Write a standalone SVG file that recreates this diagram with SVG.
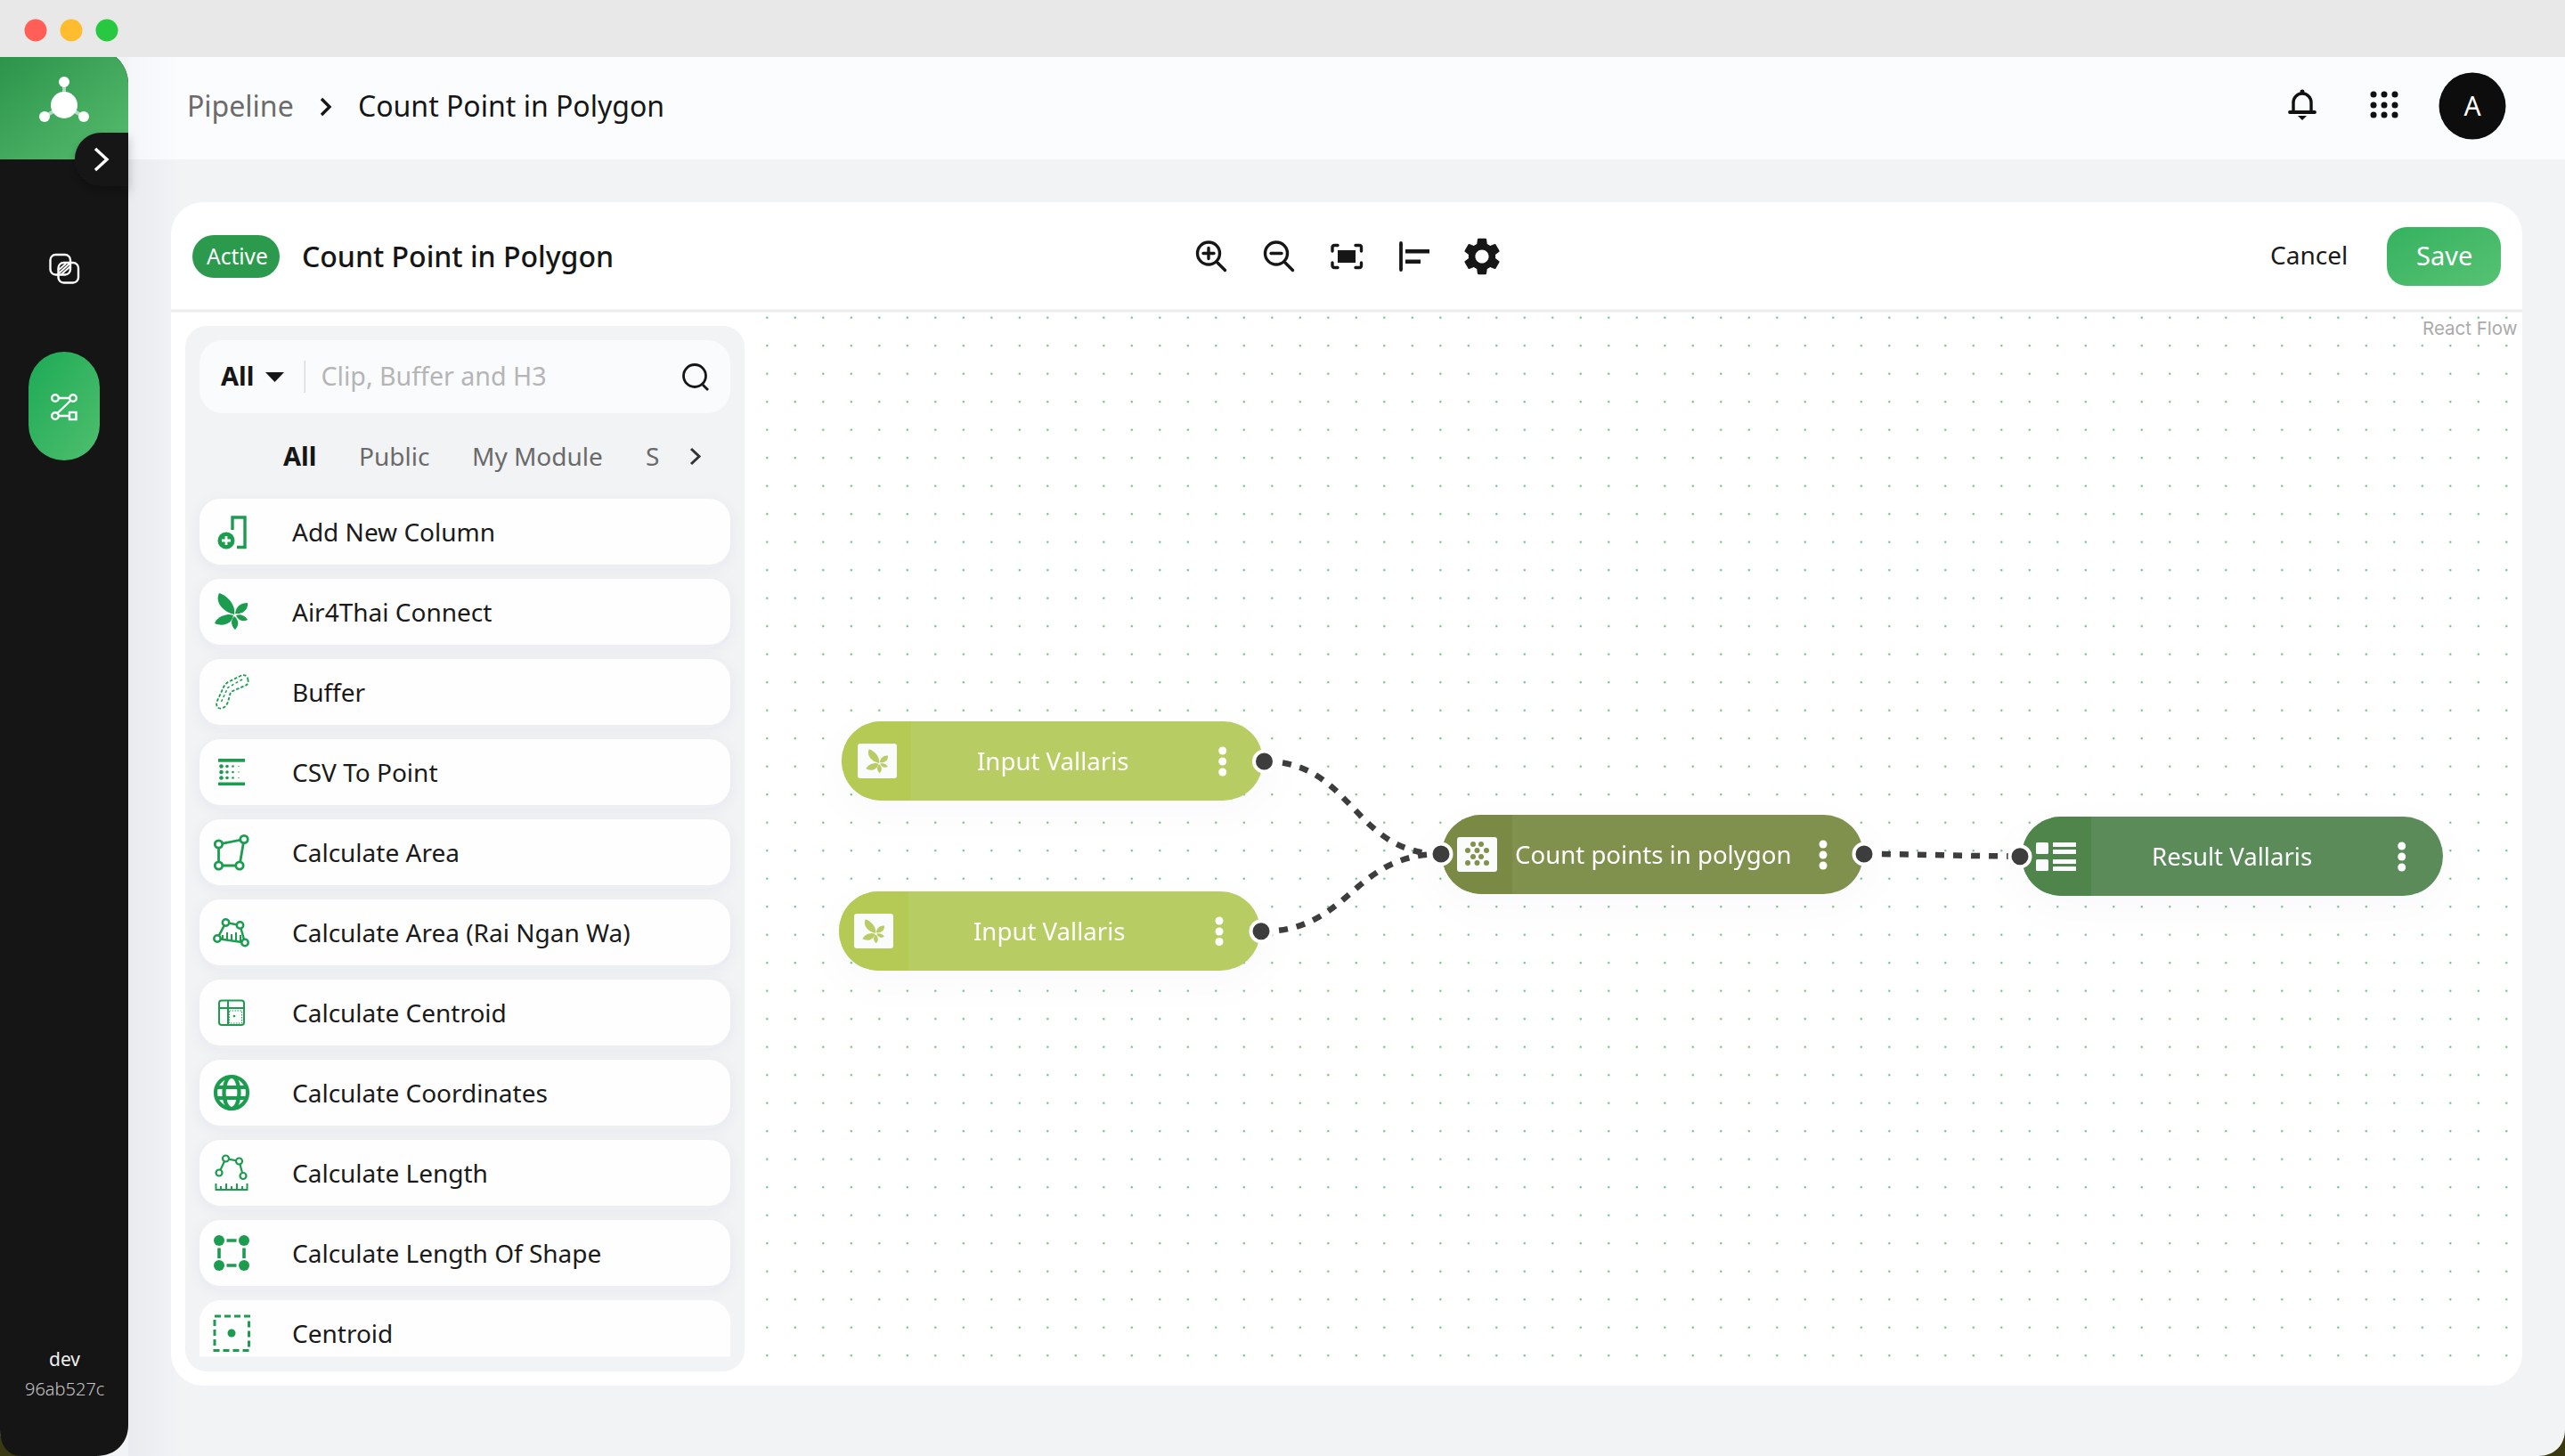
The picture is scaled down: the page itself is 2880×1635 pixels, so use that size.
<svg xmlns="http://www.w3.org/2000/svg" xmlns:xlink="http://www.w3.org/1999/xlink" width="2880" height="1635" viewBox="0 0 2880 1635">
<style>
text{font-family:"Noto Sans","Liberation Sans",sans-serif}
.lbl{font-size:28px;fill:#1a1a1a}
.nl{font-size:27.6px;fill:#fff}
.card{fill:#fefefe;filter:url(#cs)}
.g{stroke:#1b9c4f;fill:none}
.gf{fill:#1b9c4f}
.h{fill:#3d3d3d;stroke:#fff;stroke-width:4}
.edge{fill:none;stroke:#3d3d3d;stroke-width:6.5;stroke-dasharray:10 10}
.k{fill:#fff}
.tb{stroke:#161616;fill:none;stroke-width:3.4;stroke-linecap:round}
.tab{font-size:28px;fill:#6a6a6a}
</style>
<defs>
<linearGradient id="gHead" x1="0" y1="0" x2="1" y2="1"><stop offset="0" stop-color="#2c944b"/><stop offset="1" stop-color="#56bd6e"/></linearGradient>
<linearGradient id="gPill" x1="0" y1="0" x2="1" y2="1"><stop offset="0" stop-color="#1daa55"/><stop offset="1" stop-color="#4fbf6e"/></linearGradient>
<linearGradient id="gSave" x1="0" y1="0" x2="1" y2="1"><stop offset="0" stop-color="#35b25f"/><stop offset="1" stop-color="#57c274"/></linearGradient>
<linearGradient id="gSide" x1="0" y1="0" x2="1" y2="0"><stop offset="0" stop-color="#e9ebf0"/><stop offset="1" stop-color="#f2f3f5"/></linearGradient>
<linearGradient id="gSideH" x1="0" y1="0" x2="1" y2="0"><stop offset="0" stop-color="#f5f6fa"/><stop offset="1" stop-color="#fbfcfe"/></linearGradient>
<filter id="cs" x="-5%" y="-30%" width="110%" height="170%"><feDropShadow dx="0" dy="4" stdDeviation="8" flood-color="#3a3a6a" flood-opacity=".05"/></filter>
<filter id="ns" x="-20%" y="-60%" width="140%" height="240%"><feDropShadow dx="0" dy="14" stdDeviation="22" flood-color="#3a3a6a" flood-opacity=".025"/></filter>
<filter id="bs" x="-50%" y="-50%" width="200%" height="200%"><feDropShadow dx="0" dy="6" stdDeviation="6" flood-color="#000" flood-opacity=".25"/></filter>
<pattern id="dots" patternUnits="userSpaceOnUse" x="-4.95" y="-5.55" width="31.5" height="31.5"><circle cx="15.75" cy="15.75" r="1.25" fill="#6dbf85"/></pattern>
<clipPath id="cardClip"><rect x="224" y="1450" width="596" height="73.5"/></clipPath>
<g id="leaf"><path d="M0 0C-13-3-22-14-17-24C-7-21 2-10 0 0Z"/><path d="M1-1C2-9 7-13 15-13C16-5 9 0 1-1Z"/><path d="M-1 1C-9-2-20 3-22 10C-13 14-3 11-1 1Z"/><path d="M0 2C-5 7-3 14 1 17C6 12 5 6 0 2Z"/><path d="M2 1C7-1 13 2 15 6C9 9 4 6 2 1Z"/></g>
</defs>

<g id="chrome">
<rect width="2880" height="1635" fill="#f2f3f5"/>
<path d="M2880 1605V1635H2850C2868 1635 2880 1623 2880 1605Z" fill="#3a3a12"/>
<path d="M0 1605V1635H30C12 1635 0 1623 0 1605Z" fill="#3a3a12"/>
<rect x="144" y="179" width="60" height="1456" fill="url(#gSide)"/>
<rect x="144" y="64" width="2736" height="115" fill="#fbfcfe"/>
<rect x="144" y="64" width="60" height="115" fill="url(#gSideH)"/>
<rect width="2880" height="64" fill="#e8e8e8"/>
<circle cx="40" cy="34" r="12.5" fill="#ff5f57"/>
<circle cx="80" cy="34" r="12.5" fill="#febc2e"/>
<circle cx="120" cy="34" r="12.5" fill="#28c840"/>
</g>

<g id="sidebar">
<path d="M0 64H130C138 70 144 82 144 94V1600C144 1620 130 1635 108 1635H24C8 1635 0 1622 0 1606Z" fill="#151515"/>
<path d="M0 64H130C138 70 144 82 144 94V179H0Z" fill="url(#gHead)"/>
<path d="M144 149H114C97 149 84 162 84 179C84 196 97 209 114 209H144Z" fill="#151515" filter="url(#bs)"/>
<path d="M107 167L120 179L107 191" fill="none" stroke="#fff" stroke-width="3.4"/>
<g id="logo">
<path d="M72 92V118M50 131L72 118L94 131" stroke="#fff" stroke-opacity=".6" stroke-width="4" fill="none"/>
<circle cx="72" cy="118" r="15" fill="#fff"/>
<circle cx="72" cy="92" r="6" fill="#fff"/><circle cx="50" cy="131" r="6" fill="#fff"/><circle cx="94" cy="131" r="6" fill="#fff"/>
</g>
<g fill="none" stroke="#fff" stroke-width="2.4">
<rect x="56.500" y="286" width="22.500" height="22.500" rx="6"/>
<rect x="65.500" y="295" width="22.500" height="22.500" rx="6"/>
<path d="M66 307L78 296M69 308L79 299M66 303L74 296" stroke-width="2"/>
</g>
<rect x="32" y="395" width="80" height="122" rx="40" fill="url(#gPill)"/>
<g fill="none" stroke="#fff" stroke-width="2.400">
<circle cx="62" cy="447" r="3.800"/><circle cx="82" cy="447" r="3.800"/><path d="M66 447H78M79 450L65 463.500M66 467H78"/>
<circle cx="62" cy="467" r="3.800"/><rect x="78" y="463" width="7.500" height="8"/>
</g>
<text x="55" y="1534" font-size="21" fill="#f0f0f0">dev</text>
<text x="28" y="1567" font-size="20" font-weight="300" fill="#c4c4c4">96ab527c</text>
</g>

<g id="topbar">
<text x="210" y="131" font-size="32" fill="#6b6b6b">Pipeline</text>
<path d="M361 111L370 120L361 129" fill="none" stroke="#161616" stroke-width="3.4"/>
<text x="402" y="131" font-size="32" fill="#161616">Count Point in Polygon</text>
<g id="bell"><path d="M2575 125V115A10 10 0 0 1 2595 115V125" fill="none" stroke="#111" stroke-width="3.400"/><path d="M2571 126H2599" stroke="#111" stroke-width="3.800" stroke-linecap="round"/><circle cx="2585" cy="103" r="2.500" fill="#111"/><path d="M2580 130H2590L2585 135Z" fill="#111"/></g>
<g id="apps" fill="#111"><circle cx="2665" cy="106" r="3.500"/><circle cx="2677" cy="106" r="3.500"/><circle cx="2689" cy="106" r="3.500"/><circle cx="2665" cy="118" r="3.500"/><circle cx="2677" cy="118" r="3.500"/><circle cx="2689" cy="118" r="3.500"/><circle cx="2665" cy="129" r="3.500"/><circle cx="2677" cy="129" r="3.500"/><circle cx="2689" cy="129" r="3.500"/></g>
<circle cx="2776" cy="119" r="37.500" fill="#0d0d0d"/>
<text x="2776" y="130" font-size="30" fill="#fff" text-anchor="middle">A</text>
</g>

<g id="panel">
<rect x="192" y="227" width="2640" height="1329" rx="36" fill="#fff"/>
<rect x="192" y="347.500" width="2640" height="3" fill="#ececec"/>
<rect x="848" y="351" width="1984" height="1190" fill="url(#dots)"/>
</g>

<g id="toolbar">
<rect x="216" y="264" width="98" height="48" rx="24" fill="#2b9a4c"/>
<text x="232" y="297" font-size="24.500" fill="#fff">Active</text>
<text x="339" y="300" font-size="32" font-weight="500" fill="#161616">Count Point in Polygon</text>
<g class="tb"><circle cx="1357" cy="284.500" r="12.500"/><path d="M1367 295L1375.500 303.500M1351 284.500H1363M1357 278.500V290.500"/></g>
<g class="tb"><circle cx="1433" cy="284.500" r="12.500"/><path d="M1443 295L1451.500 303.500M1427 284.500H1439"/></g>
<g class="tb" stroke-linecap="butt"><path d="M1496 282V278C1496 276 1497 275.500 1499 275.500H1502M1522 275.500H1526C1528 275.500 1528.500 276 1528.500 278V282M1528.500 295V298C1528.500 300 1528 300.500 1526 300.500H1522M1502 300.500H1499C1497 300.500 1496 300 1496 298V295"/></g>
<rect x="1502" y="281" width="20" height="14" fill="#161616"/>
<path d="M1573 273V303" stroke="#161616" stroke-width="3.800" stroke-linecap="round"/>
<rect x="1578" y="280" width="27" height="4.500" fill="#161616"/><rect x="1578" y="291.500" width="17" height="4.500" fill="#161616"/>
<path transform="translate(1638.800 262.800) scale(2.100)" fill="#161616" d="M19.14 12.94c.04-.3.06-.61.06-.94 0-.32-.02-.64-.07-.94l2.03-1.58c.18-.14.23-.41.12-.61l-1.92-3.32c-.12-.22-.37-.29-.59-.22l-2.39.96c-.5-.38-1.03-.7-1.62-.94l-.36-2.54c-.04-.24-.24-.41-.48-.41h-3.84c-.24 0-.43.17-.47.41l-.36 2.54c-.59.24-1.13.57-1.62.94l-2.39-.96c-.22-.08-.47 0-.59.22L2.74 8.87c-.12.21-.08.47.12.61l2.03 1.58c-.05.3-.09.63-.09.94s.02.64.07.94l-2.03 1.58c-.18.14-.23.41-.12.61l1.92 3.32c.12.22.37.29.59.22l2.39-.96c.5.38 1.03.7 1.62.94l.36 2.54c.05.24.24.41.48.41h3.84c.24 0 .44-.17.47-.41l.36-2.54c.59-.24 1.13-.56 1.62-.94l2.39.96c.22.08.47 0 .59-.22l1.92-3.32c.12-.22.07-.47-.12-.61l-2.01-1.58zM12 15.6c-1.98 0-3.6-1.62-3.6-3.6s1.62-3.6 3.6-3.6 3.6 1.62 3.6 3.6-1.62 3.6-3.6 3.6z"/>
<text x="2549" y="297" font-size="28" fill="#1a1a1a">Cancel</text>
<rect x="2680" y="255" width="128" height="66" rx="22" fill="url(#gSave)"/>
<text x="2713" y="298" font-size="29" fill="#fff">Save</text>
<text x="2720" y="376" font-size="20.500" fill="#aaa" style="font-family:Inter,'Liberation Sans',sans-serif">React Flow</text>
</g>

<g id="library">
<rect x="208" y="366" width="628" height="1174" rx="24" fill="#f2f3f5"/>
<rect x="224" y="382" width="596" height="82" rx="26" fill="#fafbfd"/>
<text x="248" y="433" font-size="29" font-weight="700" fill="#161616">All</text>
<path d="M298 418H319L308.500 429Z" fill="#161616"/>
<rect x="341.500" y="405" width="1.500" height="36" fill="#dcdcdc"/>
<text x="360.500" y="433" font-size="28.600" fill="#b5b5b5">Clip, Buffer and H3</text>
<g fill="none" stroke="#161616" stroke-width="2.800"><circle cx="780" cy="422" r="12.500"/><path d="M789 432L795 438"/></g>
<text x="318" y="523" font-size="29" font-weight="700" fill="#161616">All</text>
<text x="403" y="523" class="tab">Public</text>
<text x="530" y="523" class="tab">My Module</text>
<text x="725" y="523" class="tab">S</text>
<path d="M776 504L785 512.500L776 521" fill="none" stroke="#333" stroke-width="3"/>

<g id="item-add-new-column"><rect class="card" x="224" y="560" width="596" height="74" rx="24"/>
<path class="g" stroke-width="3.400" d="M261 595V581H275V614.500H266"/><circle class="gf" cx="254" cy="607" r="9.500"/><path d="M249 607H259M254 602V612" stroke="#fff" stroke-width="2.800"/>
<text class="lbl" x="328" y="608">Add New Column</text></g>
<g id="item-air4thai"><rect class="card" x="224" y="650" width="596" height="74" rx="24"/>
<use xlink:href="#leaf" href="#leaf" x="263" y="690" class="gf"/>
<text class="lbl" x="328" y="698">Air4Thai Connect</text></g>
<g id="item-buffer"><rect class="card" x="224" y="740" width="596" height="74" rx="24"/>
<path class="g" stroke-width="1.800" stroke-dasharray="3.500 2" d="M278.500 764C278 758 274 757 270 759L256 766C253 768 251 771 250 774L243.500 788C242 793 245 797 250 795C253 794 255 791 256 788L259 777L275 770C278 769 279 767 278.500 764Z"/>
<path class="g" stroke-width="1.500" stroke-dasharray="3 2.500" d="M272 763L256 772L248 789"/>
<text class="lbl" x="328" y="788">Buffer</text></g>
<g id="item-csv"><rect class="card" x="224" y="830" width="596" height="74" rx="24"/>
<rect class="gf" x="245" y="852" width="30" height="3.700"/><rect class="gf" x="245" y="878.500" width="30" height="3.500"/>
<g class="gf"><circle cx="248.500" cy="860.500" r="2.300"/><circle cx="255" cy="860.500" r="1.800"/><circle cx="261.500" cy="860.500" r="1.300"/><circle cx="268" cy="860.500" r=".7"/><circle cx="248.500" cy="867" r="2.300"/><circle cx="255" cy="867" r="1.800"/><circle cx="261.500" cy="867" r="1.300"/><circle cx="268" cy="867" r=".7"/><circle cx="248.500" cy="873.500" r="2.300"/><circle cx="255" cy="873.500" r="1.800"/><circle cx="261.500" cy="873.500" r="1.300"/><circle cx="268" cy="873.500" r=".7"/></g>
<text class="lbl" x="328" y="878">CSV To Point</text></g>
<g id="item-calculate-area"><rect class="card" x="224" y="920" width="596" height="74" rx="24"/>
<path class="g" stroke-width="2.800" d="M245.500 948L274 942.500L269 972H245.500Z"/>
<g class="g" stroke-width="2.800" style="fill:#fff"><circle cx="245.500" cy="948" r="4.200"/><circle cx="274" cy="942.500" r="4.200"/><circle cx="269" cy="972" r="4.200"/><circle cx="245.500" cy="972" r="4.200"/></g>
<text class="lbl" x="328" y="968">Calculate Area</text></g>
<g id="item-rai-ngan-wa"><rect class="card" x="224" y="1010" width="596" height="74" rx="24"/>
<path class="g" stroke-width="2.500" d="M253.500 1036L269.500 1039L275 1058.500L244 1054Z"/>
<path class="g" stroke-width="2" d="M250 1050V1055M255 1047V1055M260 1049V1056M265 1047V1056M270 1050V1057"/>
<g class="g" stroke-width="2.500" style="fill:#fff"><circle cx="253.500" cy="1036" r="3.700"/><circle cx="269.500" cy="1039" r="3.700"/><circle cx="244" cy="1054" r="3.700"/><circle cx="275" cy="1058.500" r="3.700"/></g>
<text class="lbl" x="328" y="1058">Calculate Area (Rai Ngan Wa)</text></g>
<g id="item-calculate-centroid"><rect class="card" x="224" y="1100" width="596" height="74" rx="24"/>
<rect class="g" stroke-width="2" x="246" y="1123.500" width="28" height="27.500" rx="3"/><path class="g" stroke-width="2" d="M246 1132H274M256 1123.500V1151"/>
<rect class="g" stroke-width="1" stroke-dasharray="1.500 1.500" x="257.500" y="1135" width="14" height="14"/><circle class="gf" cx="263" cy="1141" r="1.300"/>
<text class="lbl" x="328" y="1148">Calculate Centroid</text></g>
<g id="item-calculate-coordinates"><rect class="card" x="224" y="1190" width="596" height="74" rx="24"/>
<g class="g" stroke-width="4.200"><circle cx="260" cy="1227" r="18"/><ellipse cx="260" cy="1227" rx="8.500" ry="18"/><path d="M243 1221H277M243 1233H277"/></g>
<text class="lbl" x="328" y="1238">Calculate Coordinates</text></g>
<g id="item-calculate-length"><rect class="card" x="224" y="1280" width="596" height="74" rx="24"/>
<path class="g" stroke-width="2.200" d="M246 1317L253.500 1301L268.500 1304L273 1320.500"/>
<g class="g" stroke-width="2.200" style="fill:#fff"><circle cx="253.500" cy="1301" r="3.500"/><circle cx="268.500" cy="1304" r="3.500"/><circle cx="246" cy="1317" r="3.500"/><circle cx="273" cy="1320.500" r="3.500"/></g>
<path class="g" stroke-width="2" d="M242.500 1329V1336H277.500V1329M248 1332V1336M254 1329V1336M260 1332V1336M266 1329V1336M272 1332V1336"/>
<text class="lbl" x="328" y="1328">Calculate Length</text></g>
<g id="item-length-of-shape"><rect class="card" x="224" y="1370" width="596" height="74" rx="24"/>
<g class="gf"><circle cx="246" cy="1393" r="6"/><circle cx="274" cy="1393" r="6"/><circle cx="246" cy="1421" r="6"/><circle cx="274" cy="1421" r="6"/></g>
<path class="g" stroke-width="3.600" d="M254.500 1393H265.500M254.500 1421H265.500M246 1401.500V1413M274 1401.500V1413"/>
<text class="lbl" x="328" y="1418">Calculate Length Of Shape</text></g>
<g id="item-centroid"><g clip-path="url(#cardClip)"><rect x="224" y="1460" width="596" height="100" rx="24" fill="#fefefe"/></g>
<rect class="g" stroke-width="3" stroke-dasharray="7 4" x="241" y="1478" width="38.500" height="38.500"/><circle class="gf" cx="260" cy="1497" r="4.500"/>
<text class="lbl" x="328" y="1508">Centroid</text></g>
</g>

<g id="connectors">
<path id="edge-1" class="edge" d="M1420 855C1519 855 1519 959 1618 959"/>
<path id="edge-2" class="edge" d="M1416 1046C1517 1046 1517 959 1618 959"/>
<path id="edge-3" class="edge" d="M2093 959C2151 959 2210 961.500 2268 961.500"/>
</g>

<g id="node-input-1" filter="url(#ns)">
<rect x="945" y="810" width="473" height="89" rx="44.500" fill="#b7cc62"/>
<path d="M989.500 810H1023V899H989.500A44.500 44.500 0 0 1 989.500 810Z" fill="#b5c955"/>
<rect x="963" y="835" width="44" height="39" rx="3" fill="#fafbfd"/>
<use xlink:href="#leaf" href="#leaf" transform="translate(987 857) scale(.66)" fill="#b7cc62"/>
<text class="nl" x="1097" y="865">Input Vallaris</text>
<circle class="k" cx="1372.700" cy="843" r="4.500"/><circle class="k" cx="1372.700" cy="855" r="4.500"/><circle class="k" cx="1372.700" cy="867" r="4.500"/>
<circle class="h" cx="1419.500" cy="855" r="11.500"/>
</g>
<g id="node-input-2" filter="url(#ns)">
<rect x="942" y="1001" width="473" height="89" rx="44.500" fill="#b7cc62"/>
<path d="M986.500 1001H1020V1090H986.500A44.500 44.500 0 0 1 986.500 1001Z" fill="#b5c955"/>
<rect x="959" y="1026" width="44" height="39" rx="3" fill="#fafbfd"/>
<use xlink:href="#leaf" href="#leaf" transform="translate(983 1048) scale(.66)" fill="#b7cc62"/>
<text class="nl" x="1093" y="1056">Input Vallaris</text>
<circle class="k" cx="1369" cy="1034" r="4.500"/><circle class="k" cx="1369" cy="1046" r="4.500"/><circle class="k" cx="1369" cy="1057.500" r="4.500"/>
<circle class="h" cx="1416" cy="1045.700" r="11.500"/>
</g>
<g id="node-count" filter="url(#ns)">
<rect x="1619" y="915" width="473" height="89" rx="44.500" fill="#80904e"/>
<path d="M1663.500 915H1698V1004H1663.500A44.500 44.500 0 0 1 1663.500 915Z" fill="#7a8a45"/>
<rect x="1636" y="940" width="45" height="39" rx="3" fill="#fafbfd"/>
<g fill="#80904e"><circle cx="1654" cy="948" r="3"/><circle cx="1663" cy="948" r="3"/><circle cx="1648" cy="955" r="3"/><circle cx="1658.500" cy="955" r="3"/><circle cx="1669" cy="955" r="3"/><circle cx="1654" cy="962" r="3"/><circle cx="1663" cy="962" r="3"/><circle cx="1648" cy="969" r="3"/><circle cx="1658.500" cy="969" r="3"/><circle cx="1669" cy="969" r="3"/></g>
<text class="nl" x="1701" y="970">Count points in polygon</text>
<circle class="k" cx="2047" cy="948" r="4.500"/><circle class="k" cx="2047" cy="960" r="4.500"/><circle class="k" cx="2047" cy="972" r="4.500"/>
<circle class="h" cx="1618" cy="959" r="11.500"/>
<circle class="h" cx="2093" cy="959" r="11.500"/>
</g>
<g id="node-result" filter="url(#ns)">
<rect x="2270" y="917" width="473" height="89" rx="44.500" fill="#5a8b59"/>
<path d="M2314.500 917H2348V1006H2314.500A44.500 44.500 0 0 1 2314.500 917Z" fill="#4f844c"/>
<g fill="#fafbfd"><rect x="2286" y="946" width="14" height="13" rx="1.500"/><rect x="2286" y="965" width="14" height="13" rx="1.500"/><rect x="2305" y="946" width="26" height="5"/><rect x="2305" y="954" width="26" height="5"/><rect x="2305" y="965" width="26" height="5"/><rect x="2305" y="973" width="26" height="5"/></g>
<text class="nl" x="2416" y="972">Result Vallaris</text>
<circle class="k" cx="2696.700" cy="950" r="4.500"/><circle class="k" cx="2696.700" cy="962" r="4.500"/><circle class="k" cx="2696.700" cy="974" r="4.500"/>
<circle class="h" cx="2268" cy="961.700" r="11.500"/>
</g>
</svg>
